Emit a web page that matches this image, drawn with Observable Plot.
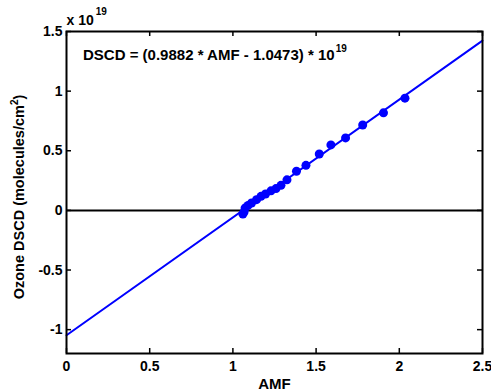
<!DOCTYPE html>
<html><head><meta charset="utf-8">
<script src="https://cdn.jsdelivr.net/npm/d3@7"></script>
<script src="https://cdn.jsdelivr.net/npm/@observablehq/plot@0.6"></script>
<style>body{margin:0;background:#fff}#chart svg{display:block}</style>
</head><body><div id="chart"></div>
<script>
const amf  = [2.034, 1.905, 1.780, 1.677, 1.589, 1.519, 1.439, 1.382, 1.325, 1.289, 1.259, 1.229, 1.196, 1.169, 1.142, 1.112, 1.091, 1.073, 1.067, 1.060];
const dscd = [0.941, 0.818, 0.716, 0.608, 0.549, 0.473, 0.378, 0.328, 0.256, 0.210, 0.183, 0.164, 0.137, 0.118, 0.090, 0.062, 0.042, 0.019, -0.014, -0.030];
const fitAmf  = [0, 2.5];
const fitDscd = [-1.0473, 1.4232];
const xTicks = [0, 0.5, 1, 1.5, 2, 2.5];
const yTicks = [-1, -0.5, 0, 0.5, 1, 1.5];
const equationText = "DSCD = (0.9882 * AMF - 1.0473) * 10";
const exponent = "19";
const scaleText = "x 10";
const xLabel = "AMF";
const yLabel = "Ozone DSCD (molecules/cm";
const yLabelSup = "2";
const yLabelEnd = ")";

const W = 491, H = 391, mt = 31, mr = 9, mb = 38, ml = 66;
const iw = W - ml - mr, ih = H - mt - mb;
const font = "'Liberation Sans', Arial, sans-serif";
const points = amf.map((x, i) => ({x, y: dscd[i]}));
const fit = fitAmf.map((x, i) => ({x, y: fitDscd[i]}));
const blue = "#0000ff";

const plot = Plot.plot({
  width: W, height: H,
  marginTop: mt, marginRight: mr, marginBottom: mb, marginLeft: ml,
  style: {fontFamily: font, fontSize: "14px", fontWeight: "bold", background: "white", color: "black", overflow: "visible"},
  x: {domain: [0, 2.5]},
  y: {domain: [-1.2, 1.5]},
  marks: [
    Plot.ruleY([0], {stroke: "black", strokeWidth: 2}),
    Plot.line(fit, {x: "x", y: "y", stroke: blue, strokeWidth: 2}),
    Plot.dot(points, {x: "x", y: "y", r: 4.5, fill: blue, stroke: "none"}),
    Plot.tickX(xTicks, {x: d => d, insetTop: ih - 5, stroke: "black", strokeWidth: 1.5}),
    Plot.tickX(xTicks, {x: d => d, insetBottom: ih - 5, stroke: "black", strokeWidth: 1.5}),
    Plot.tickY(yTicks, {y: d => d, insetRight: iw - 5, stroke: "black", strokeWidth: 1.5}),
    Plot.tickY(yTicks, {y: d => d, insetLeft: iw - 5, stroke: "black", strokeWidth: 1.5}),
    Plot.frame({stroke: "black", strokeWidth: 2}),
    Plot.axisX(xTicks, {tickSize: 0, tickPadding: 8, tickFormat: d => String(d), fontSize: 14, fontWeight: "bold", label: null}),
    Plot.axisY(yTicks, {tickSize: 0, tickPadding: 4, tickFormat: d => String(d), fontSize: 14, fontWeight: "bold", label: null}),
    Plot.text([equationText], {frameAnchor: "top-left", text: d => d, dx: 16.5, dy: 24, textAnchor: "start", lineAnchor: "middle", fontSize: 15, fontWeight: "bold"}),
    Plot.text([scaleText], {frameAnchor: "top-left", text: d => d, dx: 0, dy: -11, textAnchor: "start", lineAnchor: "middle", fontSize: 14, fontWeight: "bold"}),
    Plot.text([xLabel], {frameAnchor: "bottom", text: d => d, dy: 31, textAnchor: "middle", lineAnchor: "middle", fontSize: 15, fontWeight: "bold"}),
    Plot.text([yLabel], {frameAnchor: "left", text: d => d, dx: -47, dy: 4.5, rotate: -90, textAnchor: "middle", lineAnchor: "middle", fontSize: 14.5, fontWeight: "bold"})
  ]
});

d3.select(plot).selectAll("text").each(function() {
  const t = this.textContent;
  const sel = d3.select(this);
  if (t === equationText) {
    sel.append("tspan").attr("dx", 1).attr("dy", -8).attr("font-size", 10).text(exponent);
  } else if (t === scaleText) {
    sel.append("tspan").attr("dx", 2).attr("dy", -10).attr("font-size", 10).text(exponent);
  } else if (t === yLabel) {
    sel.append("tspan").attr("dy", -6).attr("font-size", 10).text(yLabelSup);
    sel.append("tspan").attr("dy", 6).text(yLabelEnd);
  }
});

document.getElementById("chart").appendChild(plot);
</script>
</body></html>
